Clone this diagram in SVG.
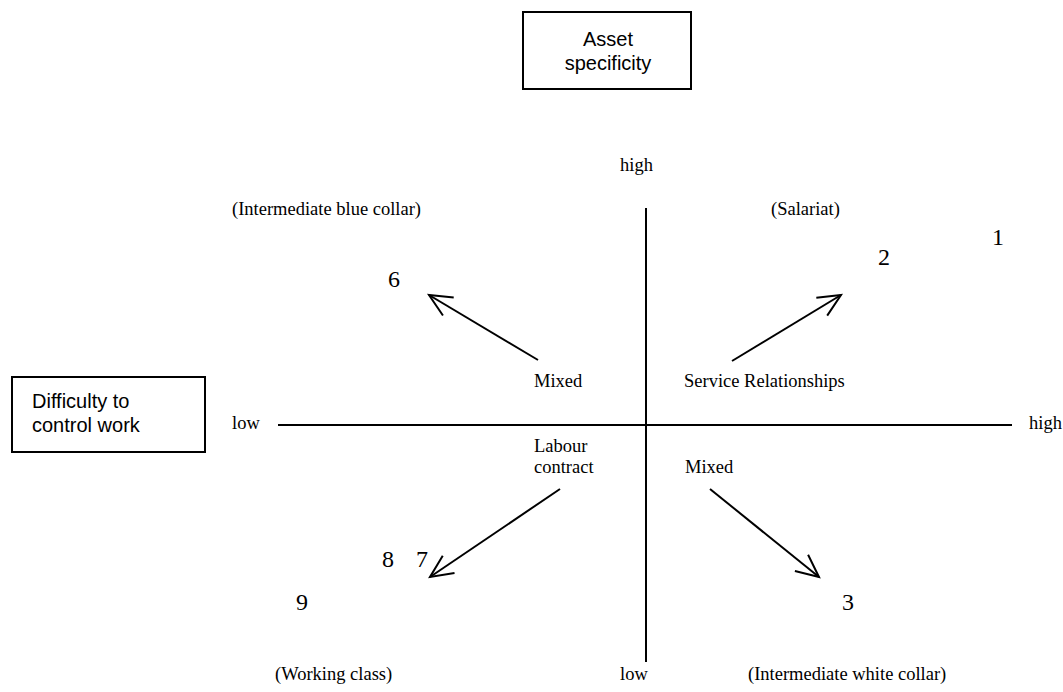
<svg xmlns="http://www.w3.org/2000/svg" width="1063" height="692" viewBox="0 0 1063 692">
<style>
.box{fill:#fff;stroke:#000;stroke-width:2}
.bt{font-family:"Liberation Sans",Arial,sans-serif;font-size:20px;fill:#000}
.t{font-family:"Liberation Serif","Times New Roman",serif;font-size:18.5px;fill:#000}
.n{font-family:"Liberation Serif","Times New Roman",serif;font-size:24px;fill:#000}
.ax{stroke:#000;stroke-width:2;fill:none}
.ar{stroke:#000;stroke-width:2;fill:none;marker-end:url(#open)}
</style>
<defs>
<marker id="open" markerUnits="userSpaceOnUse" markerWidth="40" markerHeight="40" refX="0" refY="0" viewBox="-30 -20 40 40" orient="auto" overflow="visible">
<path d="M-22.5,-10.5 L0,0 L-22.5,10.5" fill="none" stroke="#000" stroke-width="2"/>
</marker>
</defs>
<rect width="1063" height="692" fill="#fff"/>
<g id="asset-specificity">
<rect class="box" x="523" y="12" width="168" height="77"/>
<text class="bt" x="608" y="46" text-anchor="middle">Asset</text>
<text class="bt" x="608" y="70" text-anchor="middle">specificity</text>
</g>
<g id="difficulty">
<rect class="box" x="12" y="377" width="193" height="75"/>
<text class="bt" x="32" y="408">Difficulty to</text>
<text class="bt" x="32" y="432">control work</text>
</g>
<g id="connectors">
<line class="ax" x1="646" y1="208" x2="646" y2="662"/>
<line class="ax" x1="278" y1="425" x2="1012" y2="425"/>
<line class="ar" x1="538" y1="360" x2="429" y2="295"/>
<line class="ar" x1="732" y1="361" x2="841" y2="295"/>
<line class="ar" x1="560" y1="489" x2="430" y2="577"/>
<line class="ar" x1="710" y1="489" x2="819" y2="577"/>
</g>
<g id="axis-labels">
<text class="t" x="620" y="171">high</text>
<text class="t" x="620" y="680">low</text>
<text class="t" x="232" y="429">low</text>
<text class="t" x="1029" y="429">high</text>
</g>
<g id="quadrant-labels">
<text class="t" x="232" y="215">(Intermediate blue collar)</text>
<text class="t" x="771" y="215">(Salariat)</text>
<text class="t" x="275" y="680">(Working class)</text>
<text class="t" x="748" y="680">(Intermediate white collar)</text>
</g>
<g id="relationship-labels">
<text class="t" x="534" y="387">Mixed</text>
<text class="t" x="684" y="387">Service Relationships</text>
<text class="t" x="534" y="452">Labour</text>
<text class="t" x="534" y="473">contract</text>
<text class="t" x="685" y="473">Mixed</text>
</g>
<g id="numbers">
<text class="n" x="992" y="245">1</text>
<text class="n" x="878" y="265">2</text>
<text class="n" x="842" y="610">3</text>
<text class="n" x="388" y="287">6</text>
<text class="n" y="567"><tspan x="382">8</tspan><tspan x="410"> 7</tspan></text>
<text class="n" x="296" y="610">9</text>
</g>
</svg>
